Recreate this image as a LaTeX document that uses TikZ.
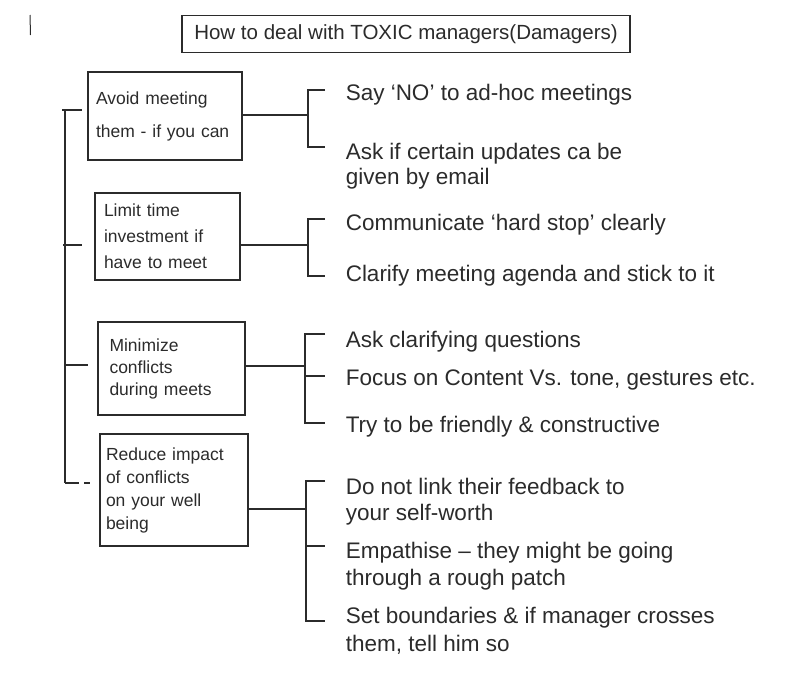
\documentclass[tikz,border=0pt]{standalone}
\usepackage{fontspec}
\setmainfont{Liberation Sans}
\definecolor{ink}{HTML}{2B2B2B}
\begin{document}
\begin{tikzpicture}[x=1pt,y=-1pt,line width=1.5pt,color=ink,
  titlebox/.style={draw=ink,line width=1.5pt,inner sep=0pt,minimum width=448pt,minimum height=37pt,text=ink,font=\fontsize{20.5}{23}\selectfont},
  box/.style={draw=ink,line width=1.5pt,inner sep=0pt,align=left,text=ink,font=\fontsize{17.5}{#1}\selectfont},
  item/.style={anchor=west,inner sep=0pt,align=left,text=ink,font=\fontsize{22.5}{25}\selectfont}]
\useasboundingbox (0,0) rectangle (800,675);
% stray mark
\coordinate (m1) at (30,15); \coordinate (m2) at (30.5,35);
\draw[line width=1pt] (m1) -- (m2);
% title
\node[titlebox] (title) at (406,34) {How to deal with TOXIC managers(Damagers)};
% boxes
\node[box=33, minimum width=154pt, minimum height=88pt, text width=138pt] (b1) at (165,116) {Avoid meeting\\them - if you can};
\node[box=26, minimum width=145pt, minimum height=87pt, text width=127pt] (b2) at (167.5,236.5) {Limit time\\investment if\\have to meet};
\node[box=22, minimum width=147pt, minimum height=93pt, text width=124pt] (b3) at (171.5,368.5) {Minimize\\conflicts\\during meets};
\node[box=23, minimum width=148pt, minimum height=112pt, text width=136pt] (b4) at (174,490) {Reduce impact\\of conflicts\\on your well\\being};
% spine
\coordinate (s1) at (65,110); \coordinate (s2) at (65,245);
\coordinate (s3) at (65,365); \coordinate (s4) at (65,483);
\draw (s1) -- (s4);
\draw[shorten >=5pt] ([xshift=-3pt]s1) -- (s1 -| b1.west);
\draw[shorten >=12pt] ([xshift=-2pt]s2) -- (s2 -| b2.west);
\draw[shorten >=9pt] (s3) -- (s3 -| b3.west);
\draw[shorten >=5pt, dash pattern=on 14pt off 5pt on 6pt off 20pt] (s4) -- (s4 -| b4.west);
% items
\node[item] (i1a) at (345,95) {Say `NO' to ad-hoc meetings};
\node[item] (i1b) at (345,166) {Ask if certain updates ca be\\given by email};
\node[item] (i2a) at (345,225) {Communicate `hard stop' clearly};
\node[item] (i2b) at (345,276) {Clarify meeting agenda and stick to it};
\node[item] (i3a) at (345,342) {Ask clarifying questions};
\node[item] (i3b) at (345,380) {Focus on Content Vs. tone, gestures etc.};
\node[item] (i3c) at (345,427) {Try to be friendly \& constructive};
\node[item,font=\fontsize{22.5}{26}\selectfont] (i4a) at (345,502) {Do not link their feedback to\\your self-worth};
\node[item,font=\fontsize{22.5}{27}\selectfont] (i4b) at (345,566) {Empathise -- they might be going\\through a rough patch};
\node[item,font=\fontsize{22.5}{28}\selectfont] (i4c) at (345,631) {Set boundaries \& if manager crosses\\them, tell him so};
% group 1
\coordinate (br1) at (308,115);
\coordinate (k1a) at (325,90); \coordinate (k1b) at (325,147);
\draw (b1.east |- br1) -- (br1);
\draw (k1a) -- (k1a -| br1) -- (k1b -| br1) -- (k1b);
% group 2
\coordinate (br2) at (308,245);
\coordinate (k2a) at (325,219); \coordinate (k2b) at (325,276);
\draw (b2.east |- br2) -- (br2);
\draw (k2a) -- (k2a -| br2) -- (k2b -| br2) -- (k2b);
% group 3
\coordinate (br3) at (305,366);
\coordinate (k3a) at (325,334); \coordinate (k3b) at (325,376); \coordinate (k3c) at (325,423);
\draw (b3.east |- br3) -- (br3);
\draw (k3a) -- (k3a -| br3) -- (k3c -| br3) -- (k3c);
\draw (k3b -| br3) -- (k3b);
% group 4
\coordinate (br4) at (306,509);
\coordinate (k4a) at (325,481); \coordinate (k4b) at (325,546); \coordinate (k4c) at (325,621);
\draw (b4.east |- br4) -- (br4);
\draw (k4a) -- (k4a -| br4) -- (k4c -| br4) -- (k4c);
\draw (k4b -| br4) -- (k4b);
\end{tikzpicture}
\end{document}
